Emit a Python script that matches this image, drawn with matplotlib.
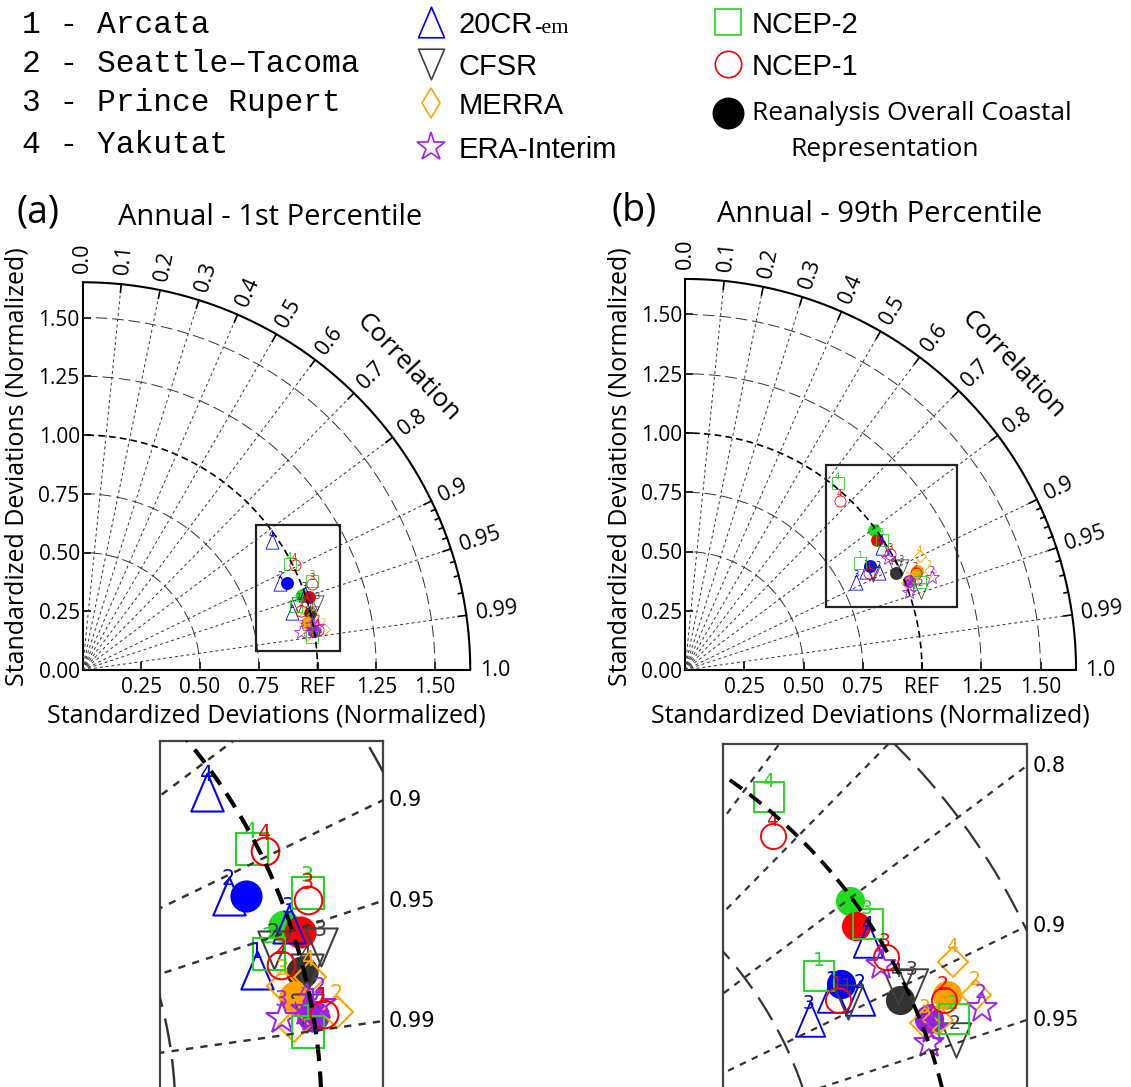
import numpy as np
import matplotlib
matplotlib.use("Agg")
import matplotlib.pyplot as plt
from matplotlib.patches import Rectangle
from matplotlib.path import Path
from matplotlib import font_manager

plt.rcParams['font.family'] = 'Open Sans'

W, H = 1131, 1087

stations = ['1', '2', '3', '4']
station_names = ['Arcata', 'Seattle–Tacoma', 'Prince Rupert', 'Yakutat']
reanalyses = ['20CR', 'CFSR', 'MERRA', 'ERA-Interim', 'NCEP-2', 'NCEP-1']

# Annual 1st percentile: normalized std dev / correlation for stations 1-4
std_p01_20cr = [0.923, 0.920, 0.999, 0.974]
cor_p01_20cr = [0.964, 0.915, 0.946, 0.826]
std_p01_cfsr = [0.990, 0.960, 1.038, 1.004]
cor_p01_cfsr = [0.985, 0.957, 0.962, 0.971]
std_p01_merra = [0.965, 1.041, 0.959, 1.007]
cor_p01_merra = [0.988, 0.986, 0.974, 0.973]
std_p01_era = [1.000, 1.015, 0.946, 0.991]
cor_p01_era = [0.986, 0.983, 0.985, 0.984]
std_p01_ncep2 = [0.987, 0.950, 1.047, 0.990]
cor_p01_ncep2 = [0.990, 0.958, 0.933, 0.890]
std_p01_ncep1 = [1.018, 0.965, 1.043, 1.009]
cor_p01_ncep1 = [0.986, 0.965, 0.937, 0.896]
# overall coastal representation (order of `reanalyses`)
std_p01_all = [0.946, 0.996, 0.975, 1.000, 0.989, 1.012]
cor_p01_all = [0.920, 0.970, 0.979, 0.986, 0.946, 0.952]

# Annual 99th percentile
std_p99_20cr = [0.871, 0.915, 0.812, 0.981]
cor_p99_20cr = [0.878, 0.893, 0.889, 0.848]
std_p99_cfsr = [0.890, 1.050, 1.013, 0.986]
cor_p99_cfsr = [0.891, 0.948, 0.903, 0.899]
std_p99_merra = [1.032, 1.114, 1.007, 1.100]
cor_p99_merra = [0.933, 0.927, 0.932, 0.900]
std_p99_era = [1.015, 1.115, 1.000, 0.977]
cor_p99_era = [0.937, 0.936, 0.945, 0.875]
std_p99_ncep2 = [0.868, 1.059, 0.996, 1.018]
cor_p99_ncep2 = [0.853, 0.936, 0.834, 0.634]
std_p99_ncep1 = [0.876, 1.055, 0.993, 0.969]
cor_p99_ncep1 = [0.885, 0.922, 0.871, 0.675]
std_p99_all = [0.895, 0.980, 1.064, 1.016, 0.994, 0.976]
cor_p99_all = [0.872, 0.909, 0.920, 0.930, 0.803, 0.828]

p01_std = [std_p01_20cr, std_p01_cfsr, std_p01_merra, std_p01_era, std_p01_ncep2, std_p01_ncep1]
p01_cor = [cor_p01_20cr, cor_p01_cfsr, cor_p01_merra, cor_p01_era, cor_p01_ncep2, cor_p01_ncep1]
p99_std = [std_p99_20cr, std_p99_cfsr, std_p99_merra, std_p99_era, std_p99_ncep2, std_p99_ncep1]
p99_cor = [cor_p99_20cr, cor_p99_cfsr, cor_p99_merra, cor_p99_era, cor_p99_ncep2, cor_p99_ncep1]

_codes = [Path.MOVETO, Path.LINETO, Path.LINETO, Path.CLOSEPOLY]
tri_up = Path([(0, 1), (-0.85, -1), (0.85, -1), (0, 1)], _codes)
tri_dn = Path([(0, -1), (-0.85, 1), (0.85, 1), (0, -1)], _codes)
colors = ['#0000ff', '#404040', '#ffa500', '#a020f0', '#1fd81f', '#ff0000']
fill_colors = ['#0000ff', '#333333', '#ffa000', '#9020e0', '#22dd22', '#ff0000']
markers = [tri_up, tri_dn, 'D', '*', 's', 'o']
msizes = [11, 11, 6.6, 10, 9.3, 8]

RMAX = 1.65
corr_lines = [0.1, 0.2, 0.3, 0.4, 0.5, 0.6, 0.7, 0.8, 0.9, 0.95, 0.99]


def to_xy(std, cor):
    s = np.asarray(std, float)
    c = np.asarray(cor, float)
    return s * c, s * np.sqrt(1 - c ** 2)


def px_axes(fig, left, top, right, bottom):
    return fig.add_axes([left / W, 1 - bottom / H, (right - left) / W, (bottom - top) / H])


def draw_grid(ax, k):
    th = np.linspace(0, np.pi / 2, 600)
    for r in [0.5, 0.75, 1.25, 1.5]:
        ax.plot(r * np.cos(th), r * np.sin(th), color='#333333', lw=0.7 * k,
                ls=(0, (12, 5)), zorder=4)
    ax.plot(np.cos(th), np.sin(th), color='black', lw=1.2 * k, ls=(0, (4, 2.5)), zorder=4)
    for c in corr_lines:
        a = np.arccos(c)
        ax.plot([0, RMAX * np.cos(a)], [0, RMAX * np.sin(a)], color='#333333',
                lw=0.7 * k, ls=(0, (3, 3)), zorder=4)


def draw_points(ax, std_list, cor_list, std_all, cor_all, k):
    xa, ya = to_xy(std_all, cor_all)
    for i in range(len(reanalyses)):
        ax.plot(xa[i], ya[i], 'o', ms=9.3 * k, color=fill_colors[i], mec='none', zorder=2)
    for i in range(len(reanalyses)):
        x, y = to_xy(std_list[i], cor_list[i])
        ax.plot(x, y, ls='none', marker=markers[i], ms=msizes[i] * k, mfc='none',
                mec=colors[i], mew=0.6 * k, zorder=3)
        for j, lab in enumerate(stations):
            ax.annotate(lab, (x[j], y[j]), xytext=(-0.3 * k, 5 * k), textcoords='offset points',
                        ha='center', va='center', fontsize=6 * k, color=colors[i],
                        family='DejaVu Sans', zorder=3)


def taylor_panel(fig, ox, oy, scale, std_list, cor_list, std_all, cor_all, box):
    L = 1.75
    ax = px_axes(fig, ox, oy - L * scale, ox + L * scale, oy)
    ax.set_xlim(0, L)
    ax.set_ylim(0, L)
    ax.patch.set_visible(False)
    for s in ['top', 'right']:
        ax.spines[s].set_visible(False)
    for s in ['left', 'bottom']:
        ax.spines[s].set_bounds(0, RMAX)
        ax.spines[s].set_linewidth(1.5)
    ax.set_xticks([0.25, 0.5, 0.75, 1.0, 1.25, 1.5])
    ax.set_xticklabels(['0.25', '0.50', '0.75', 'REF', '1.25', '1.50'])
    yt = np.arange(0, 1.51, 0.25)
    ax.set_yticks(yt)
    ax.set_yticklabels(['%.2f' % v for v in yt])
    ax.tick_params(direction='in', length=6, width=1.2, labelsize=15)
    ax.tick_params(axis='x', pad=5)
    ax.tick_params(axis='y', pad=2)

    draw_grid(ax, 1)
    th = np.linspace(0, np.pi / 2, 600)
    ax.plot(RMAX * np.cos(th), RMAX * np.sin(th), color='black', lw=1.5, zorder=4)

    # correlation ticks and labels on the outer arc
    major = [0.0, 0.1, 0.2, 0.3, 0.4, 0.5, 0.6, 0.7, 0.8, 0.9, 0.95, 0.99, 1.0]
    minor = [0.91, 0.92, 0.93, 0.94, 0.96, 0.97, 0.98]
    for c in major + minor:
        a = np.arccos(c)
        ln = 0.035 if c in major else 0.018
        ax.plot([(RMAX - ln) * np.cos(a), RMAX * np.cos(a)],
                [(RMAX - ln) * np.sin(a), RMAX * np.sin(a)], color='black', lw=1.2, zorder=4)
    for c in major:
        a = np.arccos(c)
        lab = '%.2f' % c if c in (0.95, 0.99) else '%.1f' % c
        ax.text(1.69 * np.cos(a), 1.69 * np.sin(a), lab, rotation=np.degrees(a),
                rotation_mode='anchor', ha='left', va='center', fontsize=15.5)
    ac = np.radians(42.9)
    ax.text(1.89 * np.cos(ac), 1.89 * np.sin(ac), 'Correlation', rotation=-46.5,
            rotation_mode='anchor', ha='center', va='center', fontsize=19)

    draw_points(ax, std_list, cor_list, std_all, cor_all, 1)
    ax.add_patch(Rectangle((box[0], box[1]), box[2] - box[0], box[3] - box[1],
                           fill=False, ec='#222222', lw=1.6, zorder=5))
    return ax


def zoom_panel(fig, left, top, right, x0, y0, scale, std_list, cor_list, std_all, cor_all,
               k, corr_labels):
    bottom = 1100
    ax = px_axes(fig, left, top, right, bottom)
    x1 = x0 + (right - left) / scale
    ax.set_xlim(x0, x1)
    ax.set_ylim(y0 - (bottom - top) / scale, y0)
    ax.set_xticks([])
    ax.set_yticks([])
    for s in ax.spines.values():
        s.set_color('#444444')
        s.set_linewidth(1.6)
    draw_grid(ax, k)
    draw_points(ax, std_list, cor_list, std_all, cor_all, k)
    for c in corr_labels:
        yv = x1 * np.tan(np.arccos(c))
        ax.text(x1 + 6 / scale, yv, str(c), ha='left', va='center', fontsize=15,
                family='DejaVu Sans', clip_on=False)
    return ax


fig = plt.figure(figsize=(W / 100, H / 100), dpi=100)

# legend block across the top
leg = fig.add_axes([0, 0, 1, 1])
leg.set_xlim(0, W)
leg.set_ylim(H, 0)
leg.axis('off')
for i, name in enumerate(station_names):
    leg.text(22, [25, 64, 103, 145][i], f'{i + 1} - {name}', family='Liberation Mono',
             fontsize=22.5, ha='left', va='center')

leg_y = [22, 64, 103, 147]
leg_items = [(tri_up, colors[0], 22), (tri_dn, colors[1], 22), ('d', colors[2], 15), ('*', colors[3], 21)]
for (m, col, ms), y in zip(leg_items, leg_y):
    leg.plot(431, y, marker=m, ms=ms, mfc='none', mec=col, mew=1.2, clip_on=False)
leg.text(459, 33, '20CR', family='Liberation Sans', fontsize=21, ha='left', va='baseline')
leg.text(534, 33, '-em', family='Liberation Serif', fontsize=16, ha='left', va='baseline')
for name, y in zip(['CFSR', 'MERRA', 'ERA-Interim'], leg_y[1:]):
    leg.text(459, y + 11, name, family='Liberation Sans', fontsize=21, ha='left', va='baseline')

leg.plot(728, 22, marker='s', ms=19, mfc='none', mec=colors[4], mew=1.2, clip_on=False)
leg.plot(728, 64, marker='o', ms=19, mfc='none', mec=colors[5], mew=1.2, clip_on=False)
leg.plot(728, 113, marker='o', ms=23, color='black', mec='none', clip_on=False)
leg.text(752, 33, 'NCEP-2', family='Liberation Sans', fontsize=21, ha='left', va='baseline')
leg.text(752, 75, 'NCEP-1', family='Liberation Sans', fontsize=21, ha='left', va='baseline')

installed = {f.name for f in font_manager.fontManager.ttflist}
if 'Liberation Sans Narrow' in installed:
    narrow, nsize = 'Liberation Sans Narrow', 23
else:
    narrow, nsize = 'Open Sans', 19
leg.text(752, 113, 'Reanalysis Overall Coastal', family=narrow, fontsize=nsize,
         ha='left', va='center')
leg.text(885, 150, 'Representation', family=narrow, fontsize=nsize, ha='center', va='center')

# main Taylor diagrams
taylor_panel(fig, 82.5, 670, 235, p01_std, p01_cor, std_p01_all, cor_p01_all,
             (0.737, 0.082, 1.096, 0.617))
taylor_panel(fig, 685, 670, 237, p99_std, p99_cor, std_p99_all, cor_p99_all,
             (0.593, 0.264, 1.148, 0.863))

for x, y, s in [(38, 213, '(a)'), (634, 211, '(b)')]:
    fig.text(x / W, 1 - y / H, s, fontsize=27, ha='center', va='center')
fig.text(270 / W, 1 - 217 / H, 'Annual - 1st Percentile', fontsize=21, ha='center', va='center')
fig.text(880 / W, 1 - 215 / H, 'Annual - 99th Percentile', fontsize=21, ha='center', va='center')
for x in [17, 620]:
    fig.text(x / W, 1 - 467 / H, 'Standardized Deviations (Normalized)', fontsize=18,
             rotation=90, ha='center', va='center')
for x in [266, 870]:
    fig.text(x / W, 1 - 716 / H, 'Standardized Deviations (Normalized)', fontsize=18,
             ha='center', va='center')

# magnified views of the boxed regions
zoom_panel(fig, 160, 741, 382.7, 0.7237, 0.6366, 584.5, p01_std, p01_cor,
           std_p01_all, cor_p01_all, 2.49, [0.9, 0.95, 0.99])
zoom_panel(fig, 723, 744, 1026.6, 0.560, 0.887, 534.6, p99_std, p99_cor,
           std_p99_all, cor_p99_all, 2.26, [0.8, 0.9, 0.95])

fig.savefig('out.png', dpi=100)
